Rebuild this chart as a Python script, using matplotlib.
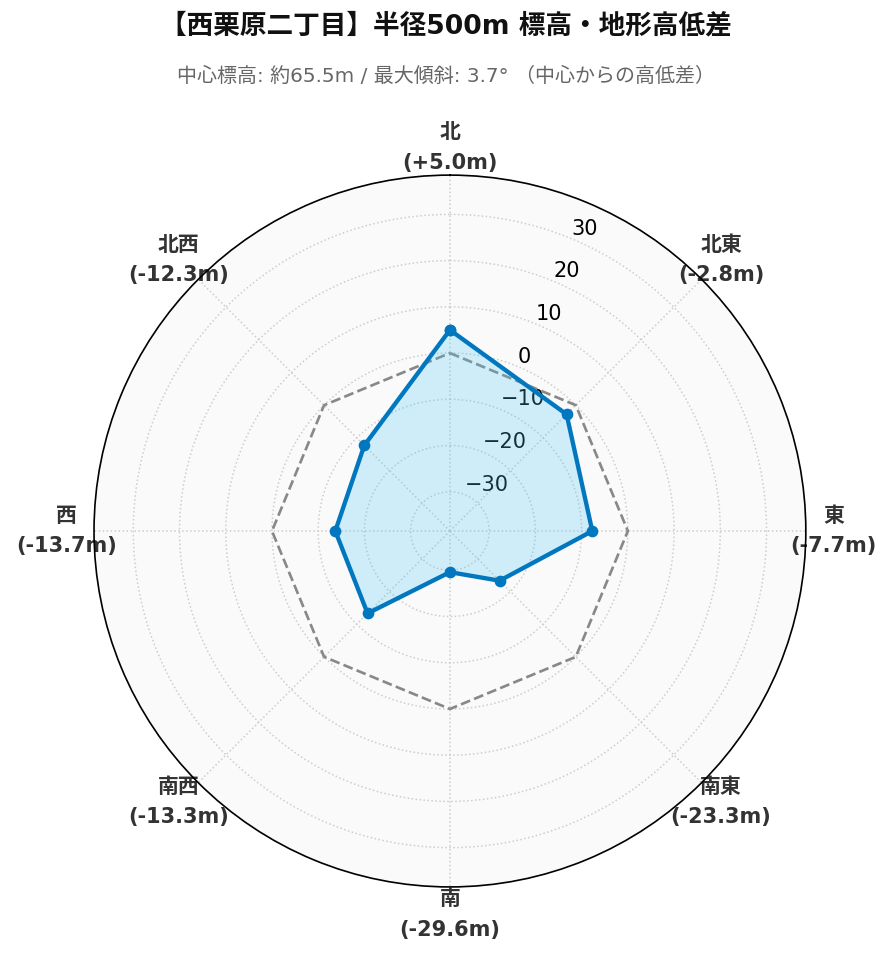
import matplotlib
matplotlib.use('Agg')
import matplotlib.pyplot as plt
import numpy as np

plt.rcParams['font.family'] = ['DejaVu Sans', 'Noto Sans CJK JP']

# 方位ごとの中心からの高低差 (m)
directions = ['北', '北東', '東', '南東', '南', '南西', '西', '北西']
diffs = [5.0, -2.8, -7.7, -23.3, -29.6, -13.3, -13.7, -12.3]
rticks = [-30, -20, -10, 0, 10, 20, 30]

title = '【西栗原二丁目】半径500m 標高・地形高低差'
subtitle = '中心標高: 約65.5m / 最大傾斜: 3.7° （中心からの高低差）'

angles = np.deg2rad(np.arange(len(directions)) * 45.0)
ang_c = np.append(angles, angles[0])
val_c = np.append(diffs, diffs[0])

fig = plt.figure(figsize=(892 / 120, 962 / 120), dpi=120, facecolor='white')
ax = fig.add_axes([0.1054, 0.078, 0.798, 0.740], projection='polar')
ax.set_facecolor('#fafafa')
ax.set_theta_zero_location('N')
ax.set_theta_direction(-1)

# zero reference, fill, data line
ax.plot(ang_c, np.zeros_like(ang_c), '--', color='#888888', lw=1.6, zorder=1.8)
ax.fill(ang_c, val_c, color='#4FC3F7', alpha=0.25, zorder=2)
ax.plot(ang_c, val_c, color='#0077BE', lw=2.6, marker='o', markersize=6, zorder=3)

ax.set_ylim(-38.5, 38.5)
ax.set_yticks(rticks)
ax.set_rlabel_position(22.5)
ax.tick_params(axis='y', labelsize=12.5, colors='black')

labels = [f'{d}\n({v:+.1f}m)' for d, v in zip(directions, diffs)]
ax.set_xticks(angles)
ax.set_xticklabels(labels, fontsize=12.5, fontweight='bold', color='#333333', linespacing=1.65)
ax.tick_params(axis='x', pad=6)

ax.grid(True, linestyle=':', color='#cccccc', lw=0.9)
ax.spines['polar'].set_color('black')
ax.spines['polar'].set_linewidth(1.0)

fig.text(0.5, 0.972, title, ha='center', va='center', fontsize=16, fontweight='bold', color='#111111')
fig.text(0.5, 0.921, subtitle, ha='center', va='center', fontsize=12, color='#666666')

plt.savefig('out.png', dpi=120, facecolor='white')
plt.close()
